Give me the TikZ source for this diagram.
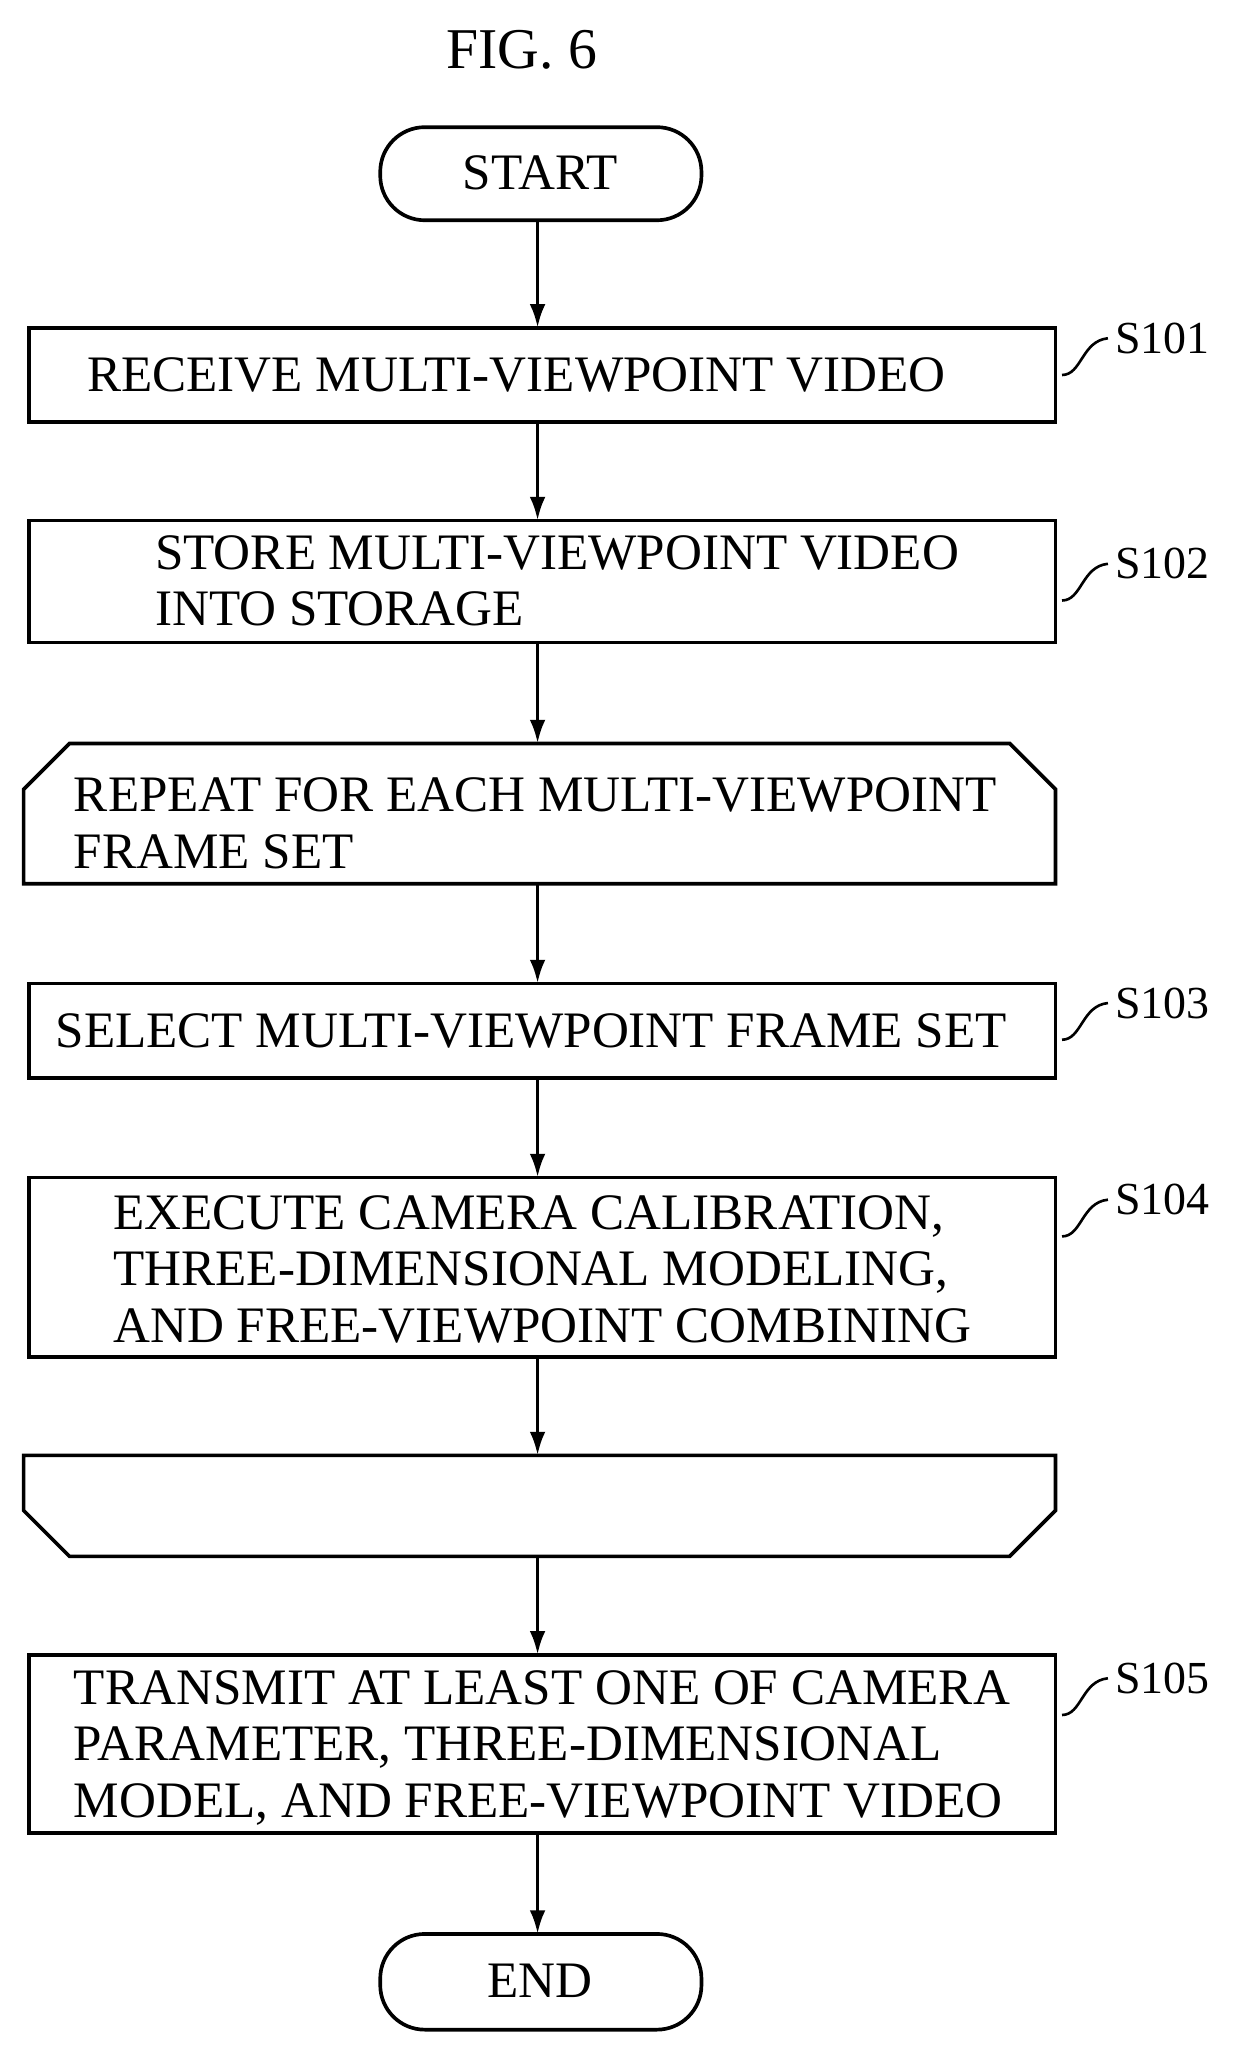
\documentclass[tikz,border=0pt]{standalone}
\usepackage{fontspec}
\setmainfont{Liberation Serif}
\usetikzlibrary{arrows.meta}
\begin{document}
\begin{tikzpicture}[x=0.5pt,y=-0.5pt,
  box/.style={draw,line width=1.4pt},
  arr/.style={-{Latex[length=9pt,width=6pt]},line width=1.4pt},
  txt/.style={font=\fontsize{19.5}{21.5}\selectfont,align=left,anchor=west,inner sep=0},
  lbl/.style={font=\fontsize{17.5}{20}\selectfont,anchor=west,inner sep=0},
  sq/.style={line width=1pt}]
\useasboundingbox (0,0) rectangle (945,1562);
\node[font=\fontsize{22}{26}\selectfont] (title) at (398,38) {FIG. 6};
% start / end
\draw[box,rounded corners=17pt] (290,97) rectangle (535,168);
\node[txt,anchor=center] (start) at (412,132) {START};
\draw[box,rounded corners=17pt] (290,1475) rectangle (535,1548);
\node[txt,anchor=center] (end) at (412,1511) {END};
% boxes
\draw[box] (22,250) rectangle (805,322);
\node[txt] (s101) at (66,286) {RECEIVE MULTI-VIEWPOINT VIDEO};
\draw[box] (22,397) rectangle (805,490);
\node[txt] (s102) at (118,443) {STORE MULTI-VIEWPOINT VIDEO\\INTO STORAGE};
\draw[box] (18,674) -- (18,602) -- (53,567) -- (770,567) -- (805,602) -- (805,674) -- cycle;
\node[txt] (ls) at (56,628) {REPEAT FOR EACH MULTI-VIEWPOINT\\FRAME SET};
\draw[box] (22,750) rectangle (805,822);
\node[txt] (s103) at (42,786) {SELECT MULTI-VIEWPOINT FRAME SET};
\draw[box] (22,898) rectangle (805,1035);
\node[txt] (s104) at (86,968) {EXECUTE CAMERA CALIBRATION,\\THREE-DIMENSIONAL MODELING,\\AND FREE-VIEWPOINT COMBINING};
\draw[box] (18,1110) -- (805,1110) -- (805,1152) -- (770,1187) -- (53,1187) -- (18,1152) -- cycle;
\draw[box] (22,1262) rectangle (805,1398);
\node[txt] (s105) at (56,1333) {TRANSMIT AT LEAST ONE OF CAMERA\\PARAMETER, THREE-DIMENSIONAL\\MODEL, AND FREE-VIEWPOINT VIDEO};
% arrows
\coordinate (a0) at (410,168); \coordinate (a1) at (410,250);
\coordinate (b0) at (410,322); \coordinate (b1) at (410,397);
\coordinate (c0) at (410,490); \coordinate (c1) at (410,567);
\coordinate (d0) at (410,674); \coordinate (d1) at (410,750);
\coordinate (e0) at (410,822); \coordinate (e1) at (410,898);
\coordinate (f0) at (410,1035); \coordinate (f1) at (410,1110);
\coordinate (g0) at (410,1187); \coordinate (g1) at (410,1262);
\coordinate (h0) at (410,1398); \coordinate (h1) at (410,1475);
\foreach \p in {a,b,c,d,e,f,g,h} \draw[arr] (\p0) -- (\p1);
% step labels
\foreach \n/\y in {101/258,102/430,103/765,104/915,105/1280}{
  \node[lbl] (L\n) at (850,\y) {S\n};
  \draw[sq] (810,\y+28) .. controls (825,\y+28) and (825,\y+2) .. (845,\y);
}
\end{tikzpicture}
\end{document}
